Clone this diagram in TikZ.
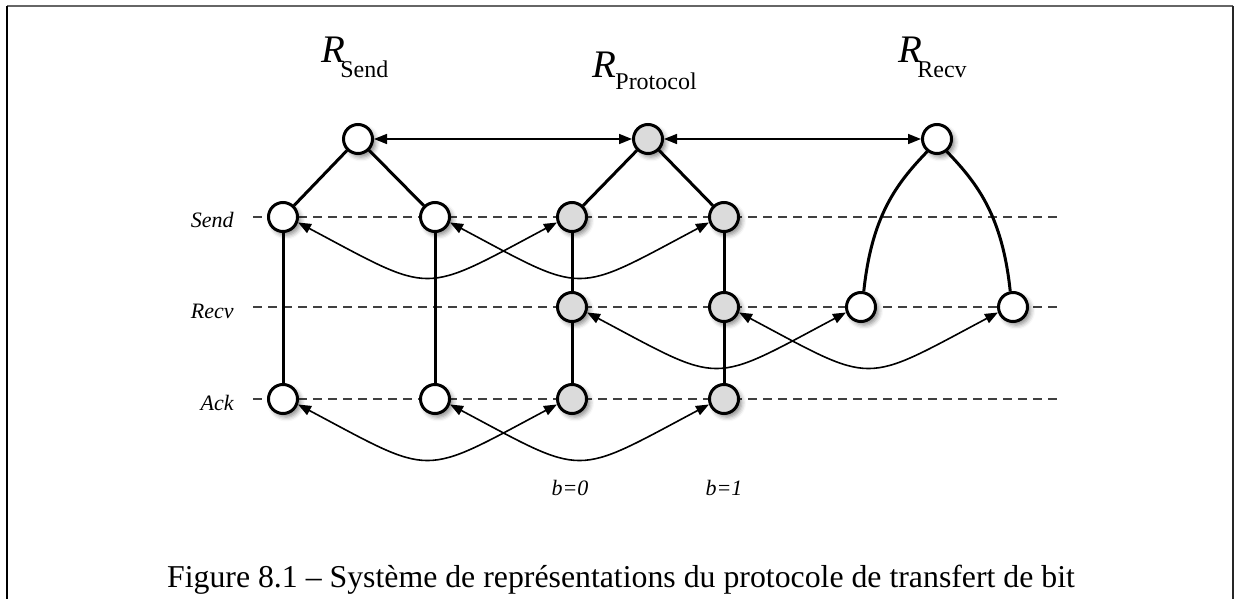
\documentclass[tikz,border=0pt]{standalone}
\usepackage{fontspec}
\setmainfont{Liberation Serif}
\usetikzlibrary{arrows.meta,shadows.blur}

\begin{document}
\begin{tikzpicture}[x=0.5pt,y=-0.5pt,
  state/.style={circle,draw,line width=1.5pt,minimum size=14.5pt,inner sep=0pt,
    fill=white,blur shadow={shadow xshift=1.6pt,shadow yshift=-1.8pt,
    shadow blur radius=2.2pt,shadow opacity=45}},
  shared/.style={state,fill=black!14},
  edge/.style={line width=1.5pt},
  guide/.style={black!75,line width=0.55pt,dash pattern=on 4.5pt off 3pt},
  link/.style={line width=0.8pt,
    {Triangle[length=6.5pt,width=5pt]}-{Triangle[length=6.5pt,width=5pt]}},
  rowlabel/.style={anchor=base east,inner sep=0pt,font=\fontsize{11pt}{13pt}\selectfont\itshape},
  bitlabel/.style={anchor=base,inner sep=0pt,font=\fontsize{11pt}{13pt}\selectfont\itshape},
  bigR/.style={anchor=base west,inner sep=0pt,font=\fontsize{19.5pt}{22pt}\selectfont\itshape},
  subR/.style={anchor=base west,inner sep=0pt,font=\fontsize{12pt}{14pt}\selectfont},
]
\useasboundingbox (0,0) rectangle (1235,599);

% frame
\draw[black!60,line width=1pt] (7,6) -- (1233,6);
\draw[black,line width=0.8pt] (7,6) -- (7,599);
\draw[black!85,line width=0.8pt] (1233,6) -- (1233,599);

% guide lines of the three actions
\coordinate (gSendL) at (253,217); \coordinate (gSendR) at (1060,217);
\coordinate (gRecvL) at (253,307); \coordinate (gRecvR) at (1060,307);
\coordinate (gAckL)  at (253,399); \coordinate (gAckR)  at (1060,399);
\draw[guide] (gSendL) -- (gSendR);
\draw[guide] (gRecvL) -- (gRecvR);
\draw[guide] (gAckL) -- (gAckR);

% row labels
\node[rowlabel] (lSend) at (234,227) {Send};
\node[rowlabel] (lRecv) at (234,318) {Recv};
\node[rowlabel] (lAck)  at (234,410) {Ack};

% titles
\node[bigR] (tSendR) at (321,63) {R};
\node[subR] (tSendS) at (340,77) {Send};
\node[bigR] (tProtR) at (592,78) {R};
\node[subR] (tProtS) at (615,90) {Protocol};
\node[bigR] (tRecvR) at (898,63) {R};
\node[subR] (tRecvS) at (917,77) {Recv};

% roots
\node[state]  (st) at (358,139) {};
\node[shared] (pt) at (648,139) {};
\node[state]  (rt) at (937,139) {};

% sender
\node[state] (sS1) at (283,217) {};
\node[state] (sS2) at (435,217) {};
\node[state] (sA1) at (283,399) {};
\node[state] (sA2) at (435,399) {};

% protocol
\node[shared] (pS1) at (572,217) {};
\node[shared] (pS2) at (724,217) {};
\node[shared] (pR1) at (572,307) {};
\node[shared] (pR2) at (724,307) {};
\node[shared] (pA1) at (572,399) {};
\node[shared] (pA2) at (724,399) {};

% receiver
\node[state] (rR1) at (861,307) {};
\node[state] (rR2) at (1013,307) {};

% bit values
\node[bitlabel] (b0) at (570,495) {b=0};
\node[bitlabel] (b1) at (724,495) {b=1};

% tree edges
\draw[edge] (st) -- (sS1);
\draw[edge] (st) -- (sS2);
\draw[edge] (sS1) -- (sA1);
\draw[edge] (sS2) -- (sA2);
\draw[edge] (pt) -- (pS1);
\draw[edge] (pt) -- (pS2);
\draw[edge] (pS1) -- (pR1) -- (pA1);
\draw[edge] (pS2) -- (pR2) -- (pA2);
\draw[edge] (rt.-128) .. controls +(134:45) and +(-84:75) .. (rR1.80);
\draw[edge] (rt.-52) .. controls +(46:45) and +(-96:75) .. (rR2.100);

% correspondences between the systems
\draw[link] (st) -- (pt);
\draw[link] (pt) -- (rt);
\draw[link] (sS1.-20) .. controls +(28:155) and +(152:155) .. (pS1.-160);
\draw[link] (sS2.-20) .. controls +(28:155) and +(152:155) .. (pS2.-160);
\draw[link] (pR1.-20) .. controls +(28:155) and +(152:155) .. (rR1.-160);
\draw[link] (pR2.-20) .. controls +(28:155) and +(152:155) .. (rR2.-160);
\draw[link] (sA1.-20) .. controls +(28:155) and +(152:155) .. (pA1.-160);
\draw[link] (sA2.-20) .. controls +(28:155) and +(152:155) .. (pA2.-160);

% caption
\node[anchor=base,inner sep=0pt,font=\fontsize{15.9pt}{18pt}\selectfont] (cap) at (621,587)
  {Figure 8.1 – Système de représentations du protocole de transfert de bit};
\end{tikzpicture}
\end{document}
